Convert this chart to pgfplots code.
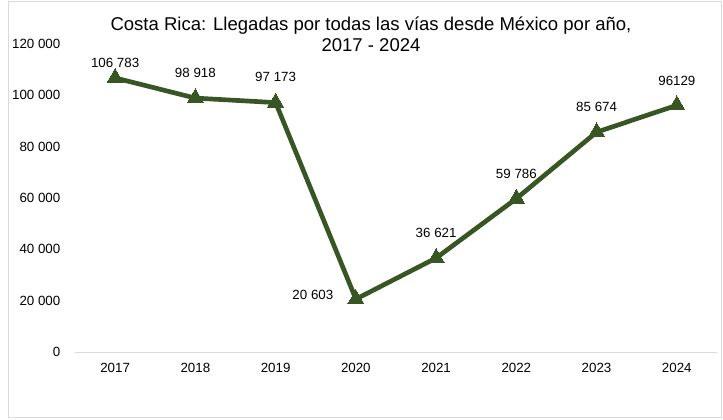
\documentclass[border=0pt]{standalone}
\usepackage{pgfplots}
\pgfplotsset{compat=1.18}
\usepackage{pgfplotstable}
\usepackage{fontspec}
\setmainfont{Liberation Sans}

\definecolor{linegreen}{HTML}{375623}
\definecolor{framegray}{HTML}{D9D9D9}

% year, arrivals, label, label shift (pt)
\pgfplotstableread[col sep=comma]{
x,y,lab,dx,dy
2017,106783,106 783,0,11.5
2018,98918,98 918,0,18.75
2019,97173,97 173,0,19
2020,20603,20 603,-32.25,3
2021,36621,36 621,0,18.75
2022,59786,59 786,0,18.5
2023,85674,85 674,0,18.75
2024,96129,96129,0,18
}\llegadas

\begin{document}
\begin{tikzpicture}
\draw[framegray, line width=0.75pt] (6pt,-0.75pt) rectangle (540.75pt,-312.75pt);
\node[align=center, font=\fontsize{13.9}{15.75}\selectfont] at (278.25pt,-25.9pt)
  {Costa Rica: Llegadas por todas las vías desde México por año,\\2017 - 2024};
\begin{axis}[
  at={(56.25pt,-264pt)}, anchor=south west,
  scale only axis, width=481.5pt, height=231pt,
  xmin=2016.5, xmax=2024.5, ymin=0, ymax=120000,
  axis lines*=left,
  y axis line style={draw=none},
  x axis line style={draw=framegray, line width=0.75pt},
  major tick length=0pt,
  xtick={2017,...,2024},
  ytick={0,20000,...,120000},
  scaled y ticks=false,
  /pgf/number format/assume math mode=true,
  yticklabel style={/pgf/number format/fixed, /pgf/number format/1000 sep={\ }, xshift=-7.5pt},
  xticklabel style={/pgf/number format/1000 sep={}, yshift=-4.5pt},
  tick label style={font=\fontsize{10}{12}\selectfont},
  point meta=explicit symbolic,
  visualization depends on={\thisrow{dx} \as \dx},
  visualization depends on={\thisrow{dy} \as \dy},
  nodes near coords,
  nodes near coords style={anchor=center, xshift=\dx pt, yshift=\dy pt,
    font=\fontsize{10}{12}\selectfont, text=black},
  clip=false,
]
\addplot[linegreen, line width=3.5pt, mark=triangle*, mark size=7pt,
  mark options={solid, fill=linegreen, draw=linegreen, line width=0pt}]
  table[x=x, y=y, meta=lab] {\llegadas};
\end{axis}
\pgfresetboundingbox
\path (0pt,0pt) rectangle (542.25pt,-314.25pt);
\end{tikzpicture}
\end{document}
